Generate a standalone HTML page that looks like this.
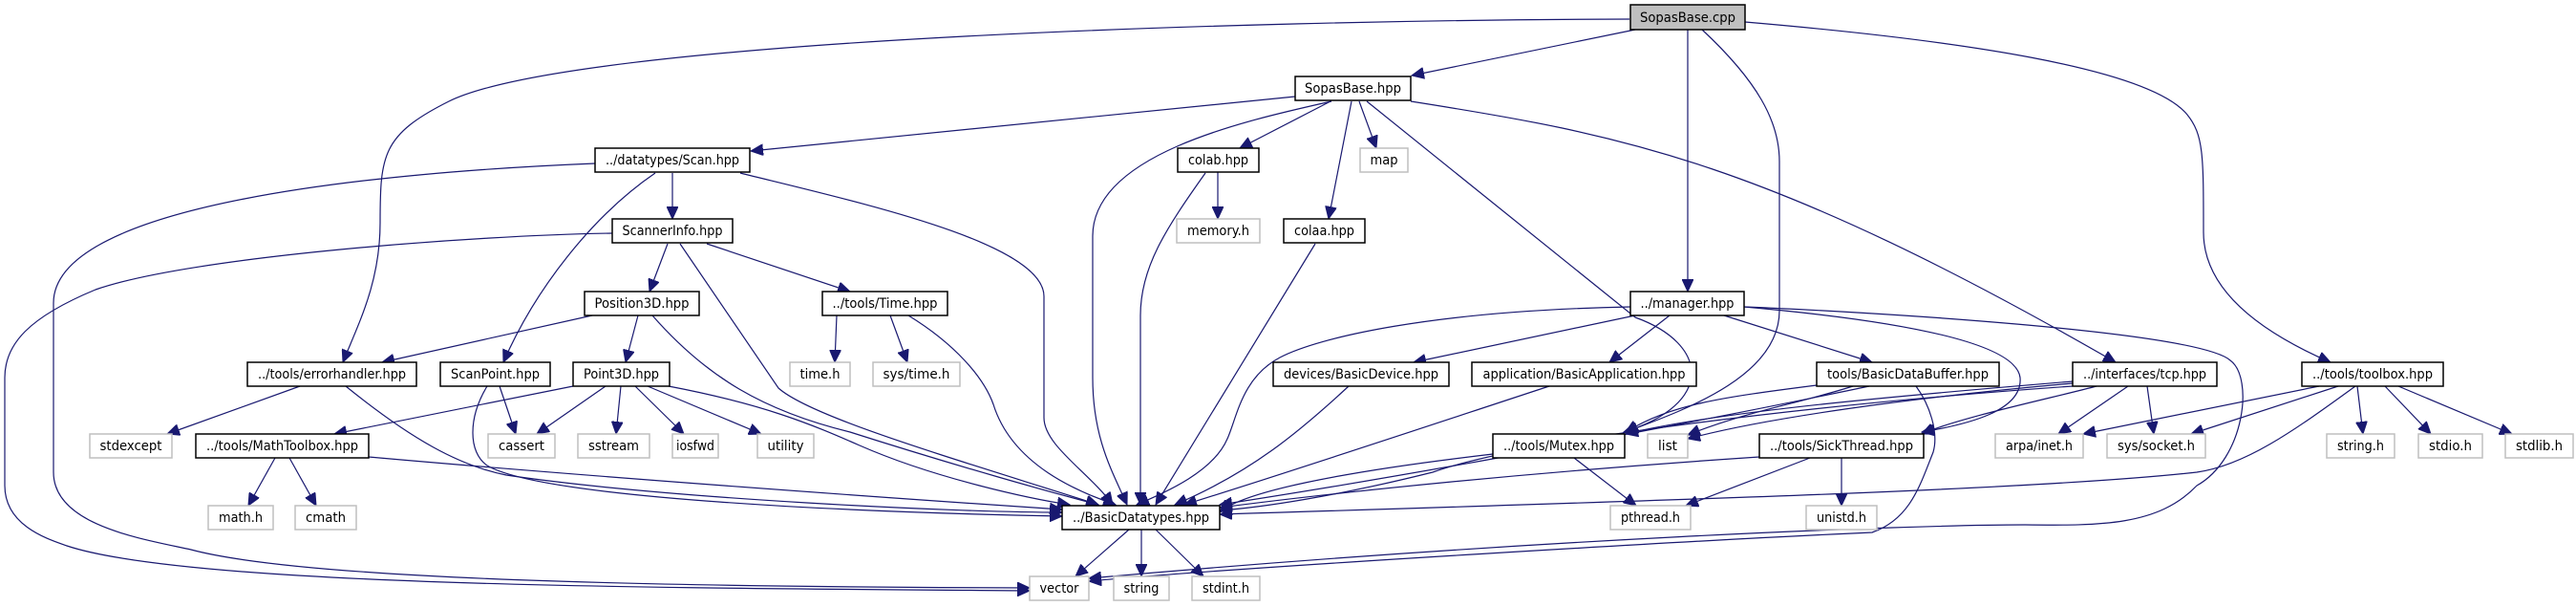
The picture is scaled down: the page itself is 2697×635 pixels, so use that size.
<!DOCTYPE html>
<html><head><meta charset="utf-8"><style>
html,body{margin:0;padding:0;background:#fff;overflow:hidden}
svg{display:block}
text{font-family:"DejaVu Sans","Liberation Sans",sans-serif;font-size:14px;fill:#000}
.n{fill:#fff;stroke:#000;stroke-width:1.5}
.x{fill:#fff;stroke:#bfbfbf;stroke-width:1.5}
.r{fill:#bfbfbf;stroke:#000;stroke-width:1.5}
path.e{fill:none;stroke:#191970;stroke-width:1.2;marker-end:url(#a)}
</style></head><body>
<svg width="2697" height="635" viewBox="0 0 2697 635" xmlns="http://www.w3.org/2000/svg">
<defs><marker id="a" markerUnits="userSpaceOnUse" markerWidth="14" markerHeight="12" refX="13" refY="6" orient="auto"><path d="M0,0 L13,6 L0,12 z" fill="#191970" stroke="#191970"/></marker></defs>
<g>
<path class="e" d="M1706,20 C1300,21 600,42 470,106 C400,141 398,162 398,233 C398,296 375,339 359,379"/>
<path class="e" d="M1712,31 L1478,79"/>
<path class="e" d="M1767,31 L1767,305"/>
<path class="e" d="M1782,31 C1840,85 1863,127 1863,169 L1863,325 C1863,395 1760,430 1702,452"/>
<path class="e" d="M1827,23 C2050,42 2250,71 2290,120 C2307,141 2307,162 2307,243 C2307,310 2380,353 2440,379"/>
<path class="e" d="M1356,101 L786,158"/>
<path class="e" d="M1394,106 C1300,127 1144,162 1144,247 L1144,395 C1144,459 1165,494 1180,528"/>
<path class="e" d="M1393,106 L1298,155"/>
<path class="e" d="M1423,106 L1441,155"/>
<path class="e" d="M1415,106 L1391,229"/>
<path class="e" d="M1431,106 L1712,332 C1790,360 1795,423 1700,452"/>
<path class="e" d="M1477,106 C1700,141 1850,169 2215,379"/>
<path class="e" d="M1275,180 L1275,229"/>
<path class="e" d="M1262,181 C1220,240 1194,280 1194,330 L1194,528"/>
<path class="e" d="M1377,255 L1210,528"/>
<path class="e" d="M623,171 C400,180 56,212 56,317 L56,494 C56,550 150,564 200,575 C320,607 700,614 1078,615"/>
<path class="e" d="M704,181 L704,229"/>
<path class="e" d="M686,181 C620,226 560,303 527,379"/>
<path class="e" d="M775,181 C900,212 1093,254 1093,310 L1093,437 C1093,466 1140,494 1165,528"/>
<path class="e" d="M641,244 C500,246 200,268 100,303 C30,332 5,360 5,395 L5,508 C5,550 50,564 70,571 C200,614 700,615 1078,618"/>
<path class="e" d="M699,255 L680,305"/>
<path class="e" d="M740,255 L890,305"/>
<path class="e" d="M712,255 L815,406 C850,437 1000,480 1150,528"/>
<path class="e" d="M620,330 L400,379"/>
<path class="e" d="M668,330 L655,379"/>
<path class="e" d="M683,330 C740,395 800,430 890,452 C1000,487 1100,515 1150,528"/>
<path class="e" d="M876,330 L874,379"/>
<path class="e" d="M932,330 L950,379"/>
<path class="e" d="M951,330 C1000,360 1030,395 1040,423 C1060,487 1130,515 1168,528"/>
<path class="e" d="M314,404 L175,454"/>
<path class="e" d="M362,404 C430,459 480,487 530,497 C700,522 1000,536 1112,536"/>
<path class="e" d="M523,404 L540,454"/>
<path class="e" d="M510,404 C490,437 490,473 510,487 C570,522 900,536 1112,540"/>
<path class="e" d="M600,404 L350,454"/>
<path class="e" d="M634,404 L562,454"/>
<path class="e" d="M650,404 L645,454"/>
<path class="e" d="M665,404 L716,454"/>
<path class="e" d="M678,404 L797,454"/>
<path class="e" d="M700,404 C800,423 850,444 900,466 C980,501 1080,522 1120,528"/>
<path class="e" d="M288,479 L260,529"/>
<path class="e" d="M303,479 L331,529"/>
<path class="e" d="M386,478 C600,497 900,519 1112,533"/>
<path class="e" d="M1707,321 C1500,325 1380,353 1340,374 C1300,395 1295,437 1285,459 C1270,494 1220,515 1190,528"/>
<path class="e" d="M1712,330 L1480,379"/>
<path class="e" d="M1748,330 L1685,379"/>
<path class="e" d="M1805,330 L1960,379"/>
<path class="e" d="M1826,321 C1950,332 2110,353 2115,395 C2118,430 2060,444 2012,452"/>
<path class="e" d="M1826,321 C1950,326 2300,346 2335,377 C2360,395 2350,480 2300,508 C2260,550 2200,550 2120,549 C2000,549 1600,564 1140,605"/>
<path class="e" d="M1412,404 C1360,452 1310,494 1230,528"/>
<path class="e" d="M1622,404 C1500,444 1350,494 1240,528"/>
<path class="e" d="M1902,403 C1800,416 1750,423 1702,452"/>
<path class="e" d="M1940,404 C1880,423 1830,430 1767,455"/>
<path class="e" d="M1957,404 C1800,437 1500,494 1277,528"/>
<path class="e" d="M2006,404 C2020,423 2030,452 2024,473 C2010,508 2000,543 1960,557 C1800,564 1300,593 1140,608"/>
<path class="e" d="M2170,399 C2000,413 1800,430 1702,454"/>
<path class="e" d="M2170,401 C2000,416 1850,437 1767,459"/>
<path class="e" d="M2195,404 C2150,416 2050,437 2012,454"/>
<path class="e" d="M2170,404 C1900,423 1600,459 1500,494 C1400,519 1320,531 1277,534"/>
<path class="e" d="M2228,404 L2155,454"/>
<path class="e" d="M2248,404 L2255,454"/>
<path class="e" d="M2428,404 L2181,454"/>
<path class="e" d="M2448,404 L2294,454"/>
<path class="e" d="M2468,404 L2474,454"/>
<path class="e" d="M2497,404 L2545,454"/>
<path class="e" d="M2511,404 L2630,454"/>
<path class="e" d="M2466,404 C2400,452 2350,487 2300,494 C2150,511 1800,522 1277,538"/>
<path class="e" d="M1563,475 C1400,494 1300,515 1277,536"/>
<path class="e" d="M1648,479 L1713,529"/>
<path class="e" d="M1842,478 C1600,494 1400,515 1277,531"/>
<path class="e" d="M1895,479 L1765,529"/>
<path class="e" d="M1928,479 L1928,529"/>
<path class="e" d="M1182,554 L1126,603"/>
<path class="e" d="M1195,554 L1195,603"/>
<path class="e" d="M1210,554 L1260,603"/>
</g>
<g>
<rect class="r" x="1707" y="5" width="120" height="26"/><text x="1767" y="23" text-anchor="middle" textLength="100" lengthAdjust="spacingAndGlyphs">SopasBase.cpp</text>
<rect class="n" x="1356" y="80" width="121" height="25"/><text x="1416.5" y="97" text-anchor="middle" textLength="101" lengthAdjust="spacingAndGlyphs">SopasBase.hpp</text>
<rect class="n" x="623" y="155" width="162" height="25"/><text x="704" y="172" text-anchor="middle" textLength="140" lengthAdjust="spacingAndGlyphs">../datatypes/Scan.hpp</text>
<rect class="n" x="1233" y="155" width="85" height="25"/><text x="1275.5" y="172" text-anchor="middle" textLength="63" lengthAdjust="spacingAndGlyphs">colab.hpp</text>
<rect class="x" x="1424" y="155" width="50" height="25"/><text x="1449" y="172" text-anchor="middle" textLength="29" lengthAdjust="spacingAndGlyphs">map</text>
<rect class="n" x="641" y="229" width="126" height="25"/><text x="704" y="246" text-anchor="middle" textLength="105" lengthAdjust="spacingAndGlyphs">ScannerInfo.hpp</text>
<rect class="x" x="1232" y="229" width="87" height="25"/><text x="1275.5" y="246" text-anchor="middle" textLength="65" lengthAdjust="spacingAndGlyphs">memory.h</text>
<rect class="n" x="1344" y="229" width="85" height="25"/><text x="1386.5" y="246" text-anchor="middle" textLength="63" lengthAdjust="spacingAndGlyphs">colaa.hpp</text>
<rect class="n" x="612" y="305" width="120" height="25"/><text x="672" y="322" text-anchor="middle" textLength="99" lengthAdjust="spacingAndGlyphs">Position3D.hpp</text>
<rect class="n" x="861" y="305" width="131" height="25"/><text x="926.5" y="322" text-anchor="middle" textLength="110" lengthAdjust="spacingAndGlyphs">../tools/Time.hpp</text>
<rect class="n" x="1707" y="305" width="119" height="25"/><text x="1766.5" y="322" text-anchor="middle" textLength="98" lengthAdjust="spacingAndGlyphs">../manager.hpp</text>
<rect class="n" x="259" y="379" width="177" height="25"/><text x="347.5" y="396" text-anchor="middle" textLength="155" lengthAdjust="spacingAndGlyphs">../tools/errorhandler.hpp</text>
<rect class="n" x="461" y="379" width="115" height="25"/><text x="518.5" y="396" text-anchor="middle" textLength="93" lengthAdjust="spacingAndGlyphs">ScanPoint.hpp</text>
<rect class="n" x="600" y="379" width="101" height="25"/><text x="650.5" y="396" text-anchor="middle" textLength="79" lengthAdjust="spacingAndGlyphs">Point3D.hpp</text>
<rect class="x" x="827" y="379" width="63" height="25"/><text x="858.5" y="396" text-anchor="middle" textLength="42" lengthAdjust="spacingAndGlyphs">time.h</text>
<rect class="x" x="914" y="379" width="91" height="25"/><text x="959.5" y="396" text-anchor="middle" textLength="70" lengthAdjust="spacingAndGlyphs">sys/time.h</text>
<rect class="n" x="1333" y="379" width="184" height="25"/><text x="1425" y="396" text-anchor="middle" textLength="162" lengthAdjust="spacingAndGlyphs">devices/BasicDevice.hpp</text>
<rect class="n" x="1541" y="379" width="235" height="25"/><text x="1658.5" y="396" text-anchor="middle" textLength="212" lengthAdjust="spacingAndGlyphs">application/BasicApplication.hpp</text>
<rect class="n" x="1902" y="379" width="191" height="25"/><text x="1997.5" y="396" text-anchor="middle" textLength="169" lengthAdjust="spacingAndGlyphs">tools/BasicDataBuffer.hpp</text>
<rect class="n" x="2170" y="379" width="151" height="25"/><text x="2245.5" y="396" text-anchor="middle" textLength="129" lengthAdjust="spacingAndGlyphs">../interfaces/tcp.hpp</text>
<rect class="n" x="2410" y="379" width="148" height="25"/><text x="2484" y="396" text-anchor="middle" textLength="126" lengthAdjust="spacingAndGlyphs">../tools/toolbox.hpp</text>
<rect class="x" x="94" y="454" width="86" height="25"/><text x="137" y="471" text-anchor="middle" textLength="65" lengthAdjust="spacingAndGlyphs">stdexcept</text>
<rect class="n" x="205" y="454" width="181" height="25"/><text x="295.5" y="471" text-anchor="middle" textLength="159" lengthAdjust="spacingAndGlyphs">../tools/MathToolbox.hpp</text>
<rect class="x" x="511" y="454" width="70" height="25"/><text x="546" y="471" text-anchor="middle" textLength="48" lengthAdjust="spacingAndGlyphs">cassert</text>
<rect class="x" x="605" y="454" width="75" height="25"/><text x="642.5" y="471" text-anchor="middle" textLength="53" lengthAdjust="spacingAndGlyphs">sstream</text>
<rect class="x" x="704" y="454" width="48" height="25"/><text x="728" y="471" text-anchor="middle" textLength="40" lengthAdjust="spacingAndGlyphs">iosfwd</text>
<rect class="x" x="793" y="454" width="59" height="25"/><text x="822.5" y="471" text-anchor="middle" textLength="38" lengthAdjust="spacingAndGlyphs">utility</text>
<rect class="n" x="1563" y="454" width="138" height="25"/><text x="1632" y="471" text-anchor="middle" textLength="116" lengthAdjust="spacingAndGlyphs">../tools/Mutex.hpp</text>
<rect class="x" x="1725" y="454" width="42" height="25"/><text x="1746" y="471" text-anchor="middle" textLength="20" lengthAdjust="spacingAndGlyphs">list</text>
<rect class="n" x="1842" y="454" width="172" height="25"/><text x="1928" y="471" text-anchor="middle" textLength="150" lengthAdjust="spacingAndGlyphs">../tools/SickThread.hpp</text>
<rect class="x" x="2089" y="454" width="92" height="25"/><text x="2135" y="471" text-anchor="middle" textLength="70" lengthAdjust="spacingAndGlyphs">arpa/inet.h</text>
<rect class="x" x="2206" y="454" width="103" height="25"/><text x="2257.5" y="471" text-anchor="middle" textLength="81" lengthAdjust="spacingAndGlyphs">sys/socket.h</text>
<rect class="x" x="2436" y="454" width="71" height="25"/><text x="2471.5" y="471" text-anchor="middle" textLength="49" lengthAdjust="spacingAndGlyphs">string.h</text>
<rect class="x" x="2532" y="454" width="67" height="25"/><text x="2565.5" y="471" text-anchor="middle" textLength="45" lengthAdjust="spacingAndGlyphs">stdio.h</text>
<rect class="x" x="2623" y="454" width="71" height="25"/><text x="2658.5" y="471" text-anchor="middle" textLength="49" lengthAdjust="spacingAndGlyphs">stdlib.h</text>
<rect class="x" x="218" y="529" width="68" height="25"/><text x="252" y="546" text-anchor="middle" textLength="46" lengthAdjust="spacingAndGlyphs">math.h</text>
<rect class="x" x="309" y="529" width="64" height="25"/><text x="341" y="546" text-anchor="middle" textLength="42" lengthAdjust="spacingAndGlyphs">cmath</text>
<rect class="n" x="1112" y="529" width="165" height="25"/><text x="1194.5" y="546" text-anchor="middle" textLength="143" lengthAdjust="spacingAndGlyphs">../BasicDatatypes.hpp</text>
<rect class="x" x="1686" y="529" width="84" height="25"/><text x="1728" y="546" text-anchor="middle" textLength="62" lengthAdjust="spacingAndGlyphs">pthread.h</text>
<rect class="x" x="1891" y="529" width="74" height="25"/><text x="1928" y="546" text-anchor="middle" textLength="52" lengthAdjust="spacingAndGlyphs">unistd.h</text>
<rect class="x" x="1078" y="603" width="62" height="25"/><text x="1109" y="620" text-anchor="middle" textLength="41" lengthAdjust="spacingAndGlyphs">vector</text>
<rect class="x" x="1166" y="603" width="58" height="25"/><text x="1195" y="620" text-anchor="middle" textLength="37" lengthAdjust="spacingAndGlyphs">string</text>
<rect class="x" x="1248" y="603" width="71" height="25"/><text x="1283.5" y="620" text-anchor="middle" textLength="49" lengthAdjust="spacingAndGlyphs">stdint.h</text>
</g>
</svg>
</body></html>
